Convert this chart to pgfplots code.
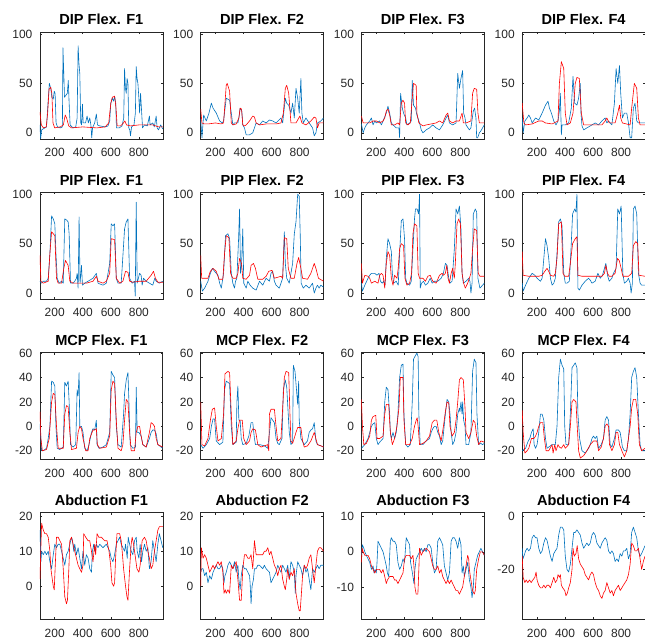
\documentclass[border=0pt]{standalone}
\usepackage{fontspec}
\setmainfont{Liberation Sans}
\usepackage{pgfplots}
\pgfplotsset{compat=1.18}
\usepgfplotslibrary{groupplots}
\definecolor{mblue}{RGB}{0,114,189}
\definecolor{mred}{RGB}{255,0,0}
\definecolor{axgray}{RGB}{38,38,38}
\begin{document}
\begin{tikzpicture}
\begin{groupplot}[
  group style={group size=4 by 4, horizontal sep=38pt, vertical sep=53.5pt},
  width=123pt, height=107pt, scale only axis,
  xmin=95, xmax=970, xtick={200,400,600,800},
  tick align=inside, major tick length=2.2pt,
  axis line style={draw=axgray, line width=0.5pt},
  every tick/.style={draw=axgray, line width=0.5pt},
  ticklabel style={font=\fontsize{12}{13}\selectfont, text=axgray},
  xticklabel style={yshift=-6pt},
  yticklabel style={xshift=-4pt},
  /pgf/number format/assume math mode=true,
  title style={font=\bfseries\fontsize{14.6}{16}\selectfont, yshift=-2.5pt},
  every axis plot/.append style={line width=0.6pt, line join=round, mark=none},
  clip=true,
]
% ===== Row 1: DIP =====
\nextgroupplot[title={DIP Flex. F1}, ymin=-6, ymax=102, ytick={0,50,100}]
\addplot[mblue] coordinates {(95,8) (100,-6) (107,3) (130,5) (142,6) (150,25) (162,50) (172,45) (180,36) (190,34) (197,42) (203,40) (210,10) (220,6) (240,5) (255,6) (259,86) (265,60) (270,36) (280,38) (290,40) (297,53) (303,30) (310,8) (330,5) (350,6) (360,15) (367,88) (373,70) (379,60) (386,10) (392,8) (398,29) (403,10) (420,10) (431,17) (440,10) (450,15) (458,8) (464,-5) (470,5) (485,10) (497,19) (505,8) (521,7) (560,6) (580,7) (592,12) (600,30) (611,35) (620,32) (627,37) (635,30) (640,5) (660,5) (680,7) (692,15) (698,65) (704,45) (710,40) (716,55) (722,50) (728,5) (735,3) (740,-3) (748,6) (765,8) (775,20) (781,67) (787,55) (793,50) (800,35) (805,20) (812,40) (818,25) (826,5) (840,8) (860,7) (875,17) (880,8) (899,10) (910,6) (923,17) (930,5) (940,3) (955,8) (970,4)};
\addplot[mred] coordinates {(95,21) (105,8) (120,5) (140,6) (150,20) (160,44) (172,46) (180,40) (188,10) (200,5) (240,6) (262,8) (275,18) (285,15) (300,7) (320,5) (400,6) (500,5) (560,6) (585,10) (600,30) (611,36) (627,37) (637,25) (645,7) (670,7) (690,10) (700,12) (712,8) (740,7) (800,8) (850,8) (900,8) (940,6) (970,6)};
\nextgroupplot[title={DIP Flex. F2}, ymin=-6, ymax=102, ytick={0,50,100}]
\addplot[mblue] coordinates {(95,14) (104,-5) (116,18) (135,12) (154,20) (171,30) (183,25) (206,20) (230,12) (249,10) (258,12) (277,35) (301,33) (313,20) (324,8) (336,10) (360,10) (367,15) (376,25) (388,22) (395,8) (407,5) (419,-2) (443,-2) (466,0) (478,5) (490,10) (514,8) (537,12) (561,10) (585,13) (608,12) (632,10) (667,15) (679,10) (698,35) (708,30) (722,28) (738,20) (750,30) (762,15) (774,45) (786,35) (797,20) (809,55) (816,20) (826,10) (845,15) (868,10) (892,5) (904,-3) (916,0) (927,10) (951,12) (970,15)};
\addplot[mred] coordinates {(95,24) (104,10) (120,9) (150,9) (200,10) (240,9) (258,10) (268,30) (277,48) (284,50) (301,42) (313,10) (324,8) (348,9) (367,15) (376,25) (386,24) (395,8) (407,7) (419,8) (443,12) (466,17) (478,16) (490,10) (514,8) (561,9) (632,9) (667,10) (684,20) (698,45) (708,48) (722,40) (738,10) (774,10) (802,17) (816,10) (845,8) (880,12) (904,16) (916,15) (927,5) (939,10) (970,10)};
\nextgroupplot[title={DIP Flex. F3}, ymin=-6, ymax=102, ytick={0,50,100}]
\addplot[mblue] coordinates {(95,9) (107,0) (119,5) (130,8) (154,12) (166,15) (178,8) (190,12) (201,10) (225,12) (237,8) (249,12) (272,20) (284,27) (296,20) (308,10) (320,8) (343,5) (362,5) (367,-5) (374,40) (386,25) (395,20) (410,15) (419,8) (438,10) (450,12) (457,53) (466,28) (480,25) (490,18) (509,10) (521,3) (533,0) (556,3) (580,5) (603,8) (627,5) (651,3) (674,8) (698,15) (710,18) (722,10) (745,8) (769,10) (774,30) (781,60) (793,45) (804,55) (816,63) (823,20) (833,15) (840,8) (864,3) (875,5) (892,22) (901,25) (911,15) (916,-5) (923,-5) (935,0) (946,2) (958,5) (970,8)};
\addplot[mred] coordinates {(95,17) (107,10) (130,10) (154,10) (178,12) (201,12) (225,10) (249,12) (261,15) (272,22) (284,24) (296,18) (308,8) (331,8) (355,10) (367,8) (379,30) (391,33) (402,30) (410,10) (426,8) (443,10) (457,35) (466,50) (485,48) (490,20) (504,10) (533,7) (556,8) (627,10) (651,12) (674,10) (698,18) (710,20) (722,12) (745,10) (769,12) (793,12) (812,20) (821,10) (840,10) (875,12) (887,40) (899,45) (916,44) (925,20) (935,10) (970,10)};
\nextgroupplot[title={DIP Flex. F4}, ymin=-6, ymax=102, ytick={0,50,100}]
\addplot[mblue] coordinates {(95,15) (102,0) (114,12) (130,15) (142,18) (154,15) (166,10) (190,15) (213,13) (237,20) (261,28) (279,32) (289,25) (303,20) (320,12) (336,8) (350,12) (360,22) (367,40) (374,-2) (379,8) (402,8) (426,10) (445,25) (457,57) (469,30) (485,28) (497,35) (509,50) (514,20) (521,7) (533,3) (556,5) (592,8) (615,10) (639,8) (663,12) (686,15) (698,10) (710,12) (734,8) (752,30) (764,65) (776,50) (788,68) (797,40) (809,15) (823,20) (840,20) (852,10) (864,-5) (875,-5) (887,25) (899,30) (911,12) (923,10) (946,10) (970,10)};
\addplot[mred] coordinates {(95,30) (107,10) (119,8) (166,9) (213,12) (237,12) (261,10) (308,9) (350,12) (360,50) (374,72) (391,65) (402,20) (414,8) (438,10) (457,20) (473,50) (485,56) (502,55) (516,20) (533,8) (663,8) (686,12) (698,15) (715,10) (757,10) (776,20) (788,28) (797,15) (809,10) (864,8) (875,25) (894,50) (911,45) (923,15) (935,8) (970,8)};
% ===== Row 2: PIP =====
\nextgroupplot[title={PIP Flex. F1}, ymin=-6, ymax=102, ytick={0,50,100}]
\addplot[mblue] coordinates {(95,12) (107,10) (119,12) (142,12) (154,15) (166,40) (178,78) (190,75) (201,70) (209,40) (218,15) (232,10) (249,12) (261,10) (272,75) (284,74) (296,72) (303,60) (313,10) (331,10) (343,12) (355,15) (360,20) (367,5) (374,77) (381,10) (391,28) (398,8) (414,10) (438,12) (473,15) (497,20) (509,10) (544,8) (568,10) (592,30) (603,70) (615,68) (627,70) (639,15) (651,10) (674,10) (698,65) (710,72) (722,75) (734,15) (752,10) (769,12) (774,-3) (781,92) (788,10) (805,20) (816,18) (823,8) (833,15) (852,12) (875,10) (899,8) (913,15) (923,12) (946,10) (970,12)};
\addplot[mred] coordinates {(95,38) (102,12) (119,10) (154,12) (166,40) (178,62) (190,60) (201,58) (213,15) (225,10) (249,10) (265,25) (277,33) (296,28) (308,12) (331,10) (379,10) (426,10) (473,12) (497,17) (509,12) (544,10) (568,12) (592,20) (603,55) (627,54) (639,15) (663,10) (686,12) (705,22) (722,21) (734,12) (757,11) (805,12) (852,12) (887,18) (904,22) (918,15) (935,11) (970,11)};
\nextgroupplot[title={PIP Flex. F2}, ymin=-6, ymax=102, ytick={0,50,100}]
\addplot[mblue] coordinates {(95,12) (107,2) (123,5) (147,12) (164,20) (178,25) (194,22) (218,18) (230,10) (242,5) (258,20) (272,58) (289,60) (301,55) (313,20) (324,10) (336,5) (343,12) (353,15) (365,55) (372,85) (379,20) (386,28) (395,65) (402,10) (419,5) (431,12) (447,8) (466,5) (490,3) (514,12) (537,8) (561,15) (585,12) (596,20) (608,22) (620,12) (632,8) (655,5) (667,10) (679,15) (691,62) (698,30) (708,15) (726,10) (750,30) (762,60) (774,72) (786,100) (797,98) (804,60) (811,10) (826,5) (845,8) (868,5) (892,10) (904,0) (916,5) (927,8) (939,5) (951,8) (970,6)};
\addplot[mred] coordinates {(95,38) (102,15) (123,15) (147,15) (164,22) (183,25) (206,22) (225,14) (253,14) (265,40) (277,58) (296,56) (308,20) (324,15) (348,15) (360,20) (372,35) (386,30) (395,15) (419,14) (443,18) (454,28) (471,30) (485,25) (502,14) (537,14) (561,17) (580,22) (603,23) (620,15) (644,16) (667,17) (679,15) (691,56) (708,55) (719,25) (738,15) (762,15) (781,30) (793,36) (809,25) (821,15) (856,14) (880,20) (904,30) (916,25) (934,15) (970,12)};
\nextgroupplot[title={PIP Flex. F3}, ymin=-6, ymax=102, ytick={0,50,100}]
\addplot[mblue] coordinates {(95,10) (102,2) (119,8) (142,15) (154,18) (166,20) (190,20) (206,18) (220,20) (230,12) (244,10) (253,12) (263,8) (272,35) (284,55) (296,50) (308,42) (315,20) (324,10) (343,12) (357,8) (367,40) (379,73) (391,75) (402,55) (410,15) (419,10) (438,8) (450,12) (462,45) (473,75) (480,85) (492,85) (502,80) (509,100) (514,5) (523,10) (537,12) (551,8) (568,10) (585,15) (599,10) (615,12) (639,12) (663,15) (679,20) (693,30) (705,28) (717,15) (726,10) (741,12) (757,45) (769,85) (781,80) (793,88) (804,65) (812,20) (821,10) (840,12) (859,15) (868,12) (875,0) (883,10) (892,80) (906,85) (916,82) (925,15) (939,5) (958,8) (970,10)};
\addplot[mred] coordinates {(95,30) (102,10) (119,18) (142,17) (154,15) (166,10) (190,12) (213,10) (225,18) (237,20) (249,18) (261,5) (272,30) (284,42) (296,38) (308,15) (320,8) (331,18) (348,15) (357,25) (367,45) (379,50) (395,48) (405,15) (419,8) (438,10) (452,20) (462,60) (473,70) (490,68) (499,20) (509,15) (533,15) (551,12) (568,17) (585,18) (603,12) (627,10) (651,18) (670,20) (679,18) (693,20) (703,28) (712,15) (722,10) (734,20) (745,25) (757,15) (764,30) (776,70) (788,75) (800,70) (812,20) (823,10) (835,5) (852,10) (864,15) (875,20) (887,45) (899,65) (916,63) (927,20) (939,17) (970,17)};
\nextgroupplot[title={PIP Flex. F4}, ymin=-6, ymax=102, ytick={0,50,100}]
\addplot[mblue] coordinates {(95,10) (102,2) (119,8) (142,15) (166,20) (185,18) (201,15) (225,12) (237,15) (249,35) (261,55) (272,48) (284,35) (296,15) (308,8) (320,10) (331,15) (343,40) (355,72) (367,75) (379,68) (391,20) (402,10) (414,10) (431,12) (443,45) (454,80) (469,85) (478,82) (485,100) (492,5) (502,3) (521,8) (544,12) (568,15) (580,13) (592,10) (615,12) (634,20) (651,15) (667,18) (681,25) (691,30) (703,18) (715,12) (734,15) (745,20) (764,25) (776,85) (788,80) (800,88) (812,20) (823,10) (840,12) (852,15) (864,10) (871,0) (880,10) (887,85) (899,88) (911,80) (923,20) (935,10) (946,8) (970,8)};
\addplot[mred] coordinates {(95,42) (102,18) (142,17) (213,17) (237,18) (256,22) (272,25) (284,22) (296,18) (320,17) (331,20) (343,35) (355,70) (374,72) (386,20) (398,17) (426,17) (438,30) (454,50) (473,55) (485,57) (492,18) (521,17) (592,17) (663,17) (681,20) (691,28) (703,20) (715,17) (734,17) (757,20) (774,35) (786,33) (800,25) (812,17) (852,17) (875,20) (887,48) (904,52) (918,50) (927,18) (970,17)};
% ===== Row 3: MCP =====
\nextgroupplot[title={MCP Flex. F1}, ymin=-27, ymax=60.5, ytick={-20,0,20,40,60}]
\addplot[mblue] coordinates {(95,2) (107,-20) (119,-20) (142,-18) (154,-10) (166,0) (178,37) (190,36) (201,33) (209,0) (218,-18) (237,-19) (261,-17) (265,0) (272,36) (284,33) (296,37) (303,20) (313,-15) (331,-17) (350,-15) (360,30) (367,25) (374,44) (379,0) (391,0) (402,-5) (414,-18) (431,-20) (445,-15) (462,-5) (473,-2) (485,-3) (497,5) (502,-15) (516,-18) (544,-17) (568,-15) (592,-5) (603,45) (615,42) (627,40) (639,0) (651,-15) (674,-17) (691,10) (698,27) (710,38) (722,44) (729,20) (738,-15) (757,-18) (776,-17) (781,32) (788,-5) (800,-5) (816,-8) (828,-15) (852,-17) (875,-10) (887,-5) (899,-3) (911,-3) (923,-6) (935,-15) (958,-17) (970,-18)};
\addplot[mred] coordinates {(95,12) (102,-10) (112,-20) (142,-19) (161,-10) (178,20) (190,27) (201,26) (213,0) (225,-18) (261,-18) (272,10) (284,17) (296,16) (308,-5) (320,-19) (355,-18) (367,-5) (379,0) (391,-2) (402,-10) (421,-20) (438,-20) (450,-10) (473,-3) (485,-3) (497,-2) (504,-15) (521,-18) (568,-17) (592,-8) (603,30) (615,37) (627,35) (639,5) (651,-18) (674,-20) (686,-15) (698,5) (710,22) (722,20) (734,-5) (745,-20) (769,-20) (781,-5) (793,0) (805,0) (816,-8) (828,-15) (852,-17) (875,-5) (887,3) (899,2) (911,0) (923,-10) (935,-15) (970,-17)};
\nextgroupplot[title={MCP Flex. F2}, ymin=-27, ymax=60.5, ytick={-20,0,20,40,60}]
\addplot[mblue] coordinates {(95,-15) (112,-18) (135,-15) (159,-10) (171,0) (183,6) (194,6) (206,-12) (230,-15) (253,-13) (265,30) (277,37) (289,36) (301,35) (313,0) (324,-15) (348,-13) (353,20) (360,33) (367,5) (376,5) (384,-10) (395,-15) (419,-14) (438,-8) (454,3) (466,3) (478,-10) (485,-15) (514,-15) (549,-16) (573,-18) (585,-5) (596,7) (608,5) (620,3) (632,-10) (644,-14) (655,-15) (674,-10) (684,30) (698,38) (708,32) (726,-5) (738,-15) (750,-13) (755,50) (767,45) (774,35) (786,18) (793,37) (797,5) (809,-10) (833,-15) (856,-12) (868,-5) (880,-3) (892,-2) (904,3) (916,-12) (927,-15) (951,-16) (970,-17)};
\addplot[mred] coordinates {(95,20) (104,-15) (123,-16) (147,-10) (164,5) (178,14) (194,15) (206,0) (218,-12) (242,-10) (258,10) (268,43) (289,45) (301,44) (313,10) (324,-15) (348,-12) (360,-2) (372,5) (391,5) (402,-10) (419,-15) (443,-12) (454,-5) (466,-2) (485,-3) (502,-15) (525,-17) (549,-16) (573,-15) (580,-20) (585,10) (596,14) (620,14) (632,0) (644,-12) (667,-10) (679,15) (691,40) (703,45) (722,44) (731,10) (738,-12) (750,-14) (774,-5) (786,-1) (809,-1) (821,-12) (833,-17) (856,-16) (880,-12) (904,-5) (927,-15) (951,-16) (970,-17)};
\nextgroupplot[title={MCP Flex. F3}, ymin=-27, ymax=60.5, ytick={-20,0,20,40,60}]
\addplot[mblue] coordinates {(95,-18) (119,-15) (142,-10) (154,-5) (166,0) (178,2) (190,3) (201,-10) (213,-15) (225,-13) (249,-10) (261,20) (272,32) (284,30) (296,10) (301,-5) (308,-10) (320,-5) (331,-10) (343,-5) (355,10) (367,40) (379,50) (391,51) (398,10) (410,-15) (426,-17) (443,-15) (457,20) (466,55) (480,58) (490,60) (499,57) (504,10) (514,-15) (533,-15) (556,-12) (580,-10) (592,-5) (603,-2) (615,0) (627,0) (639,-5) (651,-8) (663,-15) (674,-12) (693,10) (705,22) (717,20) (726,10) (734,-5) (745,-15) (757,-12) (769,-5) (781,10) (793,15) (797,12) (804,20) (812,10) (816,20) (823,5) (833,0) (840,-15) (859,-15) (875,-5) (887,45) (899,55) (911,52) (918,10) (930,-15) (946,-14) (958,-15) (970,-14)};
\addplot[mred] coordinates {(95,22) (102,0) (112,-15) (130,-14) (154,-8) (166,5) (178,8) (197,9) (206,-10) (225,-10) (249,-8) (261,10) (272,18) (289,18) (301,-5) (315,-15) (331,-10) (348,0) (362,15) (372,40) (391,40) (398,5) (410,-15) (438,-15) (457,-10) (473,0) (485,5) (492,7) (499,0) (509,-15) (533,-14) (556,-12) (580,-8) (599,3) (615,5) (632,5) (646,-5) (663,-12) (679,0) (693,12) (705,20) (717,19) (726,0) (741,-8) (757,-5) (769,5) (781,20) (793,38) (804,40) (821,38) (833,15) (840,-5) (859,-10) (875,-5) (892,5) (904,3) (916,-8) (930,-15) (946,-12) (970,-13)};
\nextgroupplot[title={MCP Flex. F4}, ymin=-27, ymax=60.5, ytick={-20,0,20,40,60}]
\addplot[mblue] coordinates {(95,-20) (119,-18) (138,-12) (149,-10) (161,-5) (173,-2) (180,-15) (190,-18) (201,-15) (213,-5) (225,10) (237,10) (249,5) (261,-10) (272,-18) (284,-17) (308,-15) (331,-15) (343,0) (355,40) (367,55) (379,50) (391,47) (398,0) (407,-15) (426,-15) (438,10) (450,48) (462,50) (473,52) (485,48) (492,10) (504,-10) (521,-20) (544,-22) (568,-18) (580,-15) (592,-10) (603,-8) (615,-10) (627,-8) (639,-18) (658,-15) (674,-10) (686,5) (698,8) (710,5) (722,-15) (734,-17) (752,-10) (764,-3) (781,-3) (793,-5) (800,-10) (809,-17) (823,-20) (840,-20) (852,-10) (864,10) (875,40) (887,45) (899,48) (911,40) (923,10) (935,-15) (946,-20) (970,-20)};
\addplot[mred] coordinates {(95,13) (102,-5) (114,-22) (130,-20) (142,-18) (161,-10) (178,-10) (190,-8) (201,-5) (213,0) (225,3) (242,3) (253,-10) (265,-20) (284,-20) (308,-15) (315,-22) (327,-15) (336,-20) (350,-15) (360,-17) (374,-18) (391,-15) (402,-18) (426,-15) (438,0) (450,20) (462,22) (478,20) (487,0) (497,-20) (509,-26) (533,-24) (556,-20) (580,-15) (603,-12) (627,-12) (639,-20) (658,-17) (674,-10) (686,0) (698,2) (710,0) (717,-15) (734,-20) (752,-15) (764,-5) (776,-5) (788,-15) (805,-20) (823,-25) (840,-20) (852,-10) (864,0) (875,15) (887,22) (904,22) (918,10) (930,-15) (946,-20) (970,-18)};
% ===== Row 4: Abduction =====
\nextgroupplot[title={Abduction F1}, ymin=-9.5, ymax=21, ytick={-10,0,10,20}]
\addplot[mblue] coordinates {(95,16) (102,7) (107,10) (119,9) (130,10) (142,9) (154,10) (166,7) (178,5) (190,9) (201,12) (213,11) (225,12) (237,12) (249,10) (261,8) (272,6) (284,9) (296,10) (308,12) (320,14) (327,13) (336,10) (343,12) (355,9) (367,11) (379,8) (391,5) (402,10) (414,6) (426,9) (438,8) (450,5) (462,4) (469,10) (478,12) (485,10) (497,12) (509,11) (521,12) (544,11) (568,12) (580,11) (592,10) (603,8) (615,7) (627,9) (639,12) (651,13) (663,14) (674,12) (686,11) (698,10) (705,12) (717,8) (724,14) (734,12) (745,10) (757,9) (769,13) (781,14) (788,10) (800,8) (809,12) (819,7) (828,10) (840,12) (852,10) (864,11) (875,5) (887,7) (899,13) (911,10) (923,7) (935,12) (946,15) (958,13) (970,11)};
\addplot[mred] coordinates {(95,2) (107,18) (119,16) (130,15) (142,15) (154,14) (166,10) (173,5) (183,2) (190,0) (197,-1) (201,3) (213,14) (225,14) (237,13) (249,12) (261,5) (272,-3) (284,-5) (291,-4) (301,5) (308,13) (320,14) (331,12) (343,10) (355,8) (367,6) (379,5) (391,4) (402,6) (407,15) (421,14) (438,13) (450,13) (462,10) (473,7) (485,12) (492,9) (502,15) (514,14) (533,14) (556,13) (573,13) (587,10) (599,6) (608,1) (620,0) (627,1) (634,8) (644,15) (663,15) (674,13) (681,10) (691,5) (705,0) (715,-3) (722,-4) (734,5) (745,12) (752,14) (762,12) (776,8) (786,5) (800,4) (809,6) (823,13) (840,14) (852,13) (864,10) (875,8) (887,5) (899,6) (911,10) (923,13) (935,16) (946,17) (970,17)};
\nextgroupplot[title={Abduction F2}, ymin=-9.5, ymax=21, ytick={-10,0,10,20}]
\addplot[mblue] coordinates {(95,4) (102,5) (112,5) (123,3) (135,4) (147,1) (159,3) (171,2) (183,4) (194,5) (206,6) (218,5) (230,5) (242,6) (253,5) (261,1) (268,3) (277,4) (289,6) (301,7) (313,6) (324,5) (336,7) (348,4) (360,6) (367,2) (376,-1) (384,3) (395,6) (407,5) (419,5) (431,4) (443,3) (447,1) (454,-5) (461,0) (471,2) (478,5) (490,5) (502,6) (514,6) (537,5) (549,6) (561,5) (585,4) (596,1) (608,2) (620,3) (632,4) (644,6) (655,5) (667,4) (679,6) (691,5) (703,4) (715,6) (726,2) (733,5) (738,7) (750,6) (762,4) (769,-2) (774,3) (786,7) (797,6) (809,5) (821,3) (833,6) (845,4) (856,5) (868,2) (880,-1) (892,5) (904,4) (916,5) (927,6) (939,5) (951,6) (970,6)};
\addplot[mred] coordinates {(95,0) (100,11) (112,8) (123,9) (135,8) (147,6) (159,4) (171,5) (183,6) (194,5) (206,6) (218,7) (230,6) (242,7) (253,4) (261,-2) (270,-1) (277,-2) (289,-1) (301,-2) (313,6) (324,5) (336,6) (348,7) (355,4) (362,1) (372,-4) (384,-4) (395,5) (407,9) (419,9) (431,8) (443,8) (454,9) (466,5) (478,13) (490,9) (502,9) (514,9) (537,9) (549,10) (561,10) (573,11) (585,9) (596,10) (608,8) (620,6) (632,5) (644,3) (655,5) (667,6) (679,2) (691,0) (698,-1) (708,2) (715,5) (726,2) (738,4) (750,3) (762,5) (774,-2) (786,-5) (797,-7) (804,-7) (811,-3) (821,3) (833,6) (845,5) (856,6) (868,8) (880,9) (892,5) (904,1) (916,6) (927,10) (939,11) (951,11) (970,10)};
\nextgroupplot[title={Abduction F3}, ymin=-19.2, ymax=11.1, ytick={-20,-10,0,10}]
\addplot[mblue] coordinates {(95,-1) (102,2) (112,1) (119,0) (130,-1) (142,-2) (154,-3) (166,-5) (178,-4) (185,-6) (192,-5) (201,-6) (206,-3) (213,3) (225,2) (237,1) (249,0) (261,-2) (272,-4) (280,-6) (289,-7) (301,3) (308,4) (320,3) (331,3) (343,2) (355,-3) (367,-5) (379,-4) (391,-2) (402,-3) (414,4) (426,3) (438,2) (445,-3) (454,-5) (462,-7) (469,-9) (476,-5) (485,-2) (497,-1) (509,0) (521,1) (533,0) (544,1) (556,0) (568,2) (580,2) (592,1) (603,-3) (615,-6) (627,-5) (639,3) (651,4) (663,3) (674,2) (686,-4) (698,-6) (710,-8) (722,-6) (734,3) (745,4) (757,4) (769,3) (781,1) (793,4) (804,2) (812,-6) (821,-4) (828,-7) (840,-5) (852,-3) (864,-8) (875,-10) (883,-13) (892,-10) (899,-5) (911,-3) (923,-1) (935,0) (946,1) (958,0) (970,-1)};
\addplot[mred] coordinates {(95,-3) (100,1) (107,0) (119,-1) (142,-1) (154,-2) (166,-4) (178,-5) (190,-6) (201,-5) (225,-5) (237,-6) (249,-5) (261,-7) (272,-9) (280,-8) (296,-7) (320,-7) (331,-8) (343,-8) (355,-9) (367,-8) (379,-7) (391,-6) (402,-2) (414,-1) (438,-1) (450,-2) (462,-1) (469,-4) (476,-10) (485,-12) (497,-12) (504,-5) (509,1) (521,-1) (533,0) (556,1) (580,0) (592,-2) (603,-4) (615,-5) (627,-5) (639,-4) (651,-6) (663,-5) (674,-7) (686,-8) (698,-9) (710,-8) (722,-9) (734,-8) (745,-9) (757,-10) (769,-11) (781,-11) (793,-12) (804,-11) (816,-10) (828,-7) (840,-4) (852,-1) (859,-2) (864,-5) (875,-8) (887,-11) (899,-12) (906,-11) (916,-5) (930,-2) (942,0) (958,0) (970,-1)};
\nextgroupplot[title={Abduction F4}, ymin=-39, ymax=1.5, ytick={-40,-20,0}]
\addplot[mblue] coordinates {(95,-12) (100,-16) (107,-15) (119,-13) (130,-12) (142,-13) (154,-12) (166,-8) (178,-7) (190,-8) (201,-8) (213,-12) (225,-14) (237,-13) (249,-10) (261,-8) (272,-9) (284,-12) (296,-15) (308,-17) (320,-14) (331,-13) (343,-12) (355,-7) (367,-4) (379,-4) (391,-5) (402,-15) (414,-20) (426,-21) (438,-18) (450,-12) (462,-6) (473,-6) (485,-5) (497,-6) (509,-7) (521,-10) (533,-12) (544,-11) (556,-10) (568,-11) (580,-10) (592,-7) (603,-6) (615,-7) (627,-10) (639,-11) (651,-12) (663,-10) (674,-9) (686,-8) (698,-9) (710,-13) (722,-14) (734,-13) (745,-14) (757,-17) (769,-16) (781,-17) (793,-14) (805,-15) (816,-13) (828,-13) (840,-12) (852,-16) (864,-14) (875,-6) (887,-4) (899,-6) (911,-8) (923,-13) (935,-15) (946,-14) (970,-11)};
\addplot[mred] coordinates {(95,-15) (102,-23) (114,-25) (123,-24) (135,-25) (147,-24) (159,-25) (171,-24) (185,-23) (194,-21) (201,-24) (213,-26) (225,-27) (237,-27) (249,-26) (261,-27) (272,-26) (284,-26) (296,-27) (308,-25) (320,-23) (331,-25) (343,-24) (350,-22) (360,-23) (367,-22) (374,-26) (384,-27) (398,-28) (407,-30) (417,-29) (426,-27) (438,-25) (450,-20) (457,-12) (466,-15) (478,-14) (487,-11) (497,-16) (509,-18) (521,-19) (533,-20) (544,-22) (556,-23) (568,-24) (580,-22) (592,-21) (603,-22) (615,-25) (627,-27) (639,-28) (651,-30) (663,-31) (674,-29) (686,-28) (698,-25) (710,-27) (722,-29) (734,-28) (745,-30) (757,-28) (769,-27) (781,-26) (793,-28) (805,-27) (816,-26) (828,-25) (840,-24) (852,-22) (864,-18) (875,-10) (887,-11) (899,-13) (911,-13) (923,-12) (935,-16) (946,-20) (958,-17) (970,-15)};
\end{groupplot}
\pgfresetboundingbox
\path ([xshift=-40pt,yshift=32pt]group c1r1.north west) rectangle ([yshift=-23pt]group c4r4.south east);
\end{tikzpicture}
\end{document}
